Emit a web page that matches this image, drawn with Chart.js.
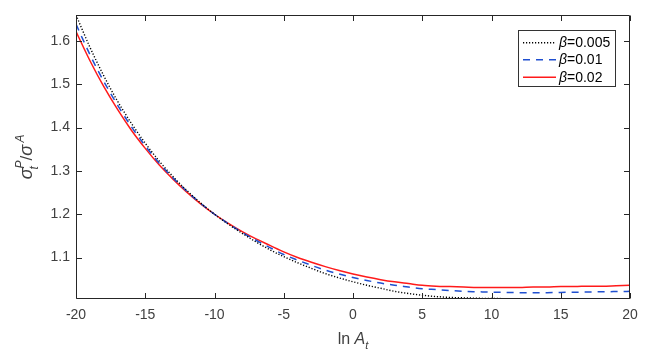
<!DOCTYPE html>
<html>
<head>
<meta charset="utf-8">
<script src="https://cdn.jsdelivr.net/npm/chart.js@4.4.1/dist/chart.umd.min.js"></script>
<style>
html,body{margin:0;padding:0;background:#fff;}
#wrap{width:648px;height:357px;position:relative;}
</style>
</head>
<body>
<div id="wrap"><canvas id="c" width="648" height="357"></canvas></div>
<script>
// ---- data ----
const lnA = [-20,-19,-18,-17,-16,-15,-14,-13,-12,-11,-10,-9,-8,-7,-6,-5,-4,-3,-2,-1,0,1,2,3,4,5,6,7,8,9,10,11,12,13,14,15,16,17,18,19,20];
const beta005 = [1.660,1.586,1.520,1.461,1.410,1.364,1.323,1.287,1.255,1.226,1.200,1.177,1.156,1.136,1.118,1.102,1.088,1.075,1.063,1.053,1.044,1.036,1.029,1.022,1.017,1.013,1.010,1.008,1.007,1.006,1.0055,1.0052,1.005,1.005,1.005,1.005,1.005,1.005,1.005,1.005,1.005];
const beta01 = [1.639,1.569,1.507,1.452,1.402,1.358,1.318,1.284,1.253,1.225,1.200,1.178,1.158,1.140,1.123,1.107,1.094,1.082,1.071,1.062,1.054,1.047,1.041,1.036,1.032,1.028,1.026,1.024,1.022,1.021,1.020,1.0195,1.019,1.019,1.019,1.0195,1.020,1.0205,1.021,1.0215,1.022];
const beta02 = [1.622,1.555,1.495,1.442,1.394,1.352,1.314,1.281,1.251,1.224,1.200,1.179,1.160,1.143,1.128,1.113,1.100,1.089,1.079,1.070,1.062,1.055,1.049,1.044,1.040,1.036,1.034,1.033,1.032,1.031,1.031,1.031,1.031,1.032,1.032,1.033,1.033,1.034,1.034,1.035,1.036];
const betaLabels = ['0.005','0.01','0.02'];
const xTicks = [-20,-15,-10,-5,0,5,10,15,20];
const yTicks = [1.1,1.2,1.3,1.4,1.5,1.6];

const FONT = "'Liberation Sans', Arial, Helvetica, sans-serif";
const AXC = '#262626';
const TXT = '#404040';

function pts(arr){ return lnA.map((x,i)=>({x:x,y:arr[i]})); }

const styles = [
  {color:'#000000', dash:[1.2,1.8], width:1.4},
  {color:'#1f4fd0', dash:[7,6], width:1.5},
  {color:'#ff1a1a', dash:[], width:1.5}
];
const seriesData = [beta005, beta01, beta02];

const datasets = seriesData.map((d,i)=>({
  label:'β='+betaLabels[i],
  data:pts(d),
  borderColor:styles[i].color,
  borderDash:styles[i].dash,
  borderWidth:styles[i].width,
  pointRadius:0,
  fill:false,
  cubicInterpolationMode:'monotone'
}));

function drawRich(ctx, parts, x, y, align){
  let w = 0;
  parts.forEach(p=>{ctx.font=(p.italic?'italic ':'')+p.size+'px '+FONT; p.w=ctx.measureText(p.t).width; w+=p.w;});
  let cx = align==='center'? x-w/2 : x;
  parts.forEach(p=>{ctx.font=(p.italic?'italic ':'')+p.size+'px '+FONT; ctx.fillText(p.t,cx,y+(p.dy||0)); cx+=p.w;});
}

const decor = {
  id:'decor',
  afterDatasetsDraw(chart){
    const ctx=chart.ctx, a=chart.chartArea, xs=chart.scales.x, ys=chart.scales.y;
    ctx.save();
    ctx.strokeStyle=AXC; ctx.lineWidth=1;
    ctx.beginPath();
    const L=Math.round(a.left)+0.5, R=Math.round(a.right)-0.5, T=Math.round(a.top)+0.5, B=Math.round(a.bottom)-0.5;
    ctx.rect(L,T,R-L,B-T);
    const tl=5.5;
    xTicks.forEach(v=>{const p=Math.round(xs.getPixelForValue(v))+0.5; ctx.moveTo(p,B); ctx.lineTo(p,B-tl); ctx.moveTo(p,T); ctx.lineTo(p,T+tl);});
    yTicks.forEach(v=>{const p=Math.round(ys.getPixelForValue(v))+0.5; ctx.moveTo(L,p); ctx.lineTo(L+tl,p); ctx.moveTo(R,p); ctx.lineTo(R-tl,p);});
    ctx.stroke();

    // legend
    const lx=518.5, ly=30.5, lw=97, lh=56;
    ctx.fillStyle='#fff'; ctx.fillRect(lx,ly,lw,lh);
    ctx.strokeStyle='#333'; ctx.lineWidth=1; ctx.strokeRect(lx,ly,lw,lh);
    const rows=[42.7,59.8,77.3];
    chart.data.datasets.forEach((ds,i)=>{
      const y=rows[i];
      ctx.beginPath(); ctx.strokeStyle=ds.borderColor; ctx.lineWidth=ds.borderWidth; ctx.setLineDash(ds.borderDash);
      ctx.moveTo(523,y); ctx.lineTo(556,y); ctx.stroke(); ctx.setLineDash([]);
      ctx.fillStyle='#000'; ctx.textBaseline='middle';
      drawRich(ctx,[{t:'β',italic:true,size:14},{t:'='+betaLabels[i],italic:false,size:14}],559,y+0.5,'left');
    });

    // axis titles
    ctx.fillStyle=TXT; ctx.textBaseline='alphabetic';
    const cx=(a.left+a.right)/2;
    drawRich(ctx,[{t:'ln ',size:16},{t:'A',italic:true,size:16},{t:'t',italic:true,size:11,dy:5}],cx,343.5,'center');
    ctx.save();
    ctx.translate(32,(a.top+a.bottom)/2); ctx.rotate(-Math.PI/2);
    const parts=[{t:'σ',italic:true,size:18},{t:'P',italic:true,size:12,dy:-8},{t:'/',size:17},{t:'σ',italic:true,size:18},{t:' ',size:9},{t:'A',italic:true,size:12,dy:-8}];
    let w=0; parts.forEach(p=>{ctx.font=(p.italic?'italic ':'')+p.size+'px '+FONT; p.w=ctx.measureText(p.t).width; w+=p.w;});
    let px=-w/2;
    parts.forEach((p,k)=>{ctx.font=(p.italic?'italic ':'')+p.size+'px '+FONT; ctx.fillText(p.t,px,0+(p.dy||0));
      if(k===1){ ctx.font='italic 12px '+FONT; ctx.fillText('t',px-1,6); }
      px+=p.w;});
    ctx.restore();
    ctx.restore();
  }
};

new Chart(document.getElementById('c'),{
  type:'line',
  data:{datasets:datasets},
  options:{
    responsive:false, animation:false, devicePixelRatio:1,
    layout:{padding:{top:15,right:18,left:0,bottom:0}},
    plugins:{legend:{display:false},tooltip:{enabled:false}},
    scales:{
      x:{type:'linear',min:-20,max:20,
        grid:{display:false,drawTicks:false},border:{display:false},
        afterBuildTicks:s=>{s.ticks=xTicks.map(v=>({value:v}));},
        afterFit:s=>{s.height=58.3;},
        ticks:{padding:8,color:TXT,font:{family:FONT,size:14},maxRotation:0,autoSkip:false,callback:v=>String(v)}},
      y:{type:'linear',min:1.005,max:1.66,
        grid:{display:false,drawTicks:false},border:{display:false},
        afterBuildTicks:s=>{s.ticks=yTicks.map(v=>({value:v}));},
        afterFit:s=>{s.width=76;},
        ticks:{padding:6,color:TXT,font:{family:FONT,size:14},autoSkip:false,callback:v=>v.toFixed(1)}}
    }
  },
  plugins:[decor]
});
</script>
</body>
</html>
